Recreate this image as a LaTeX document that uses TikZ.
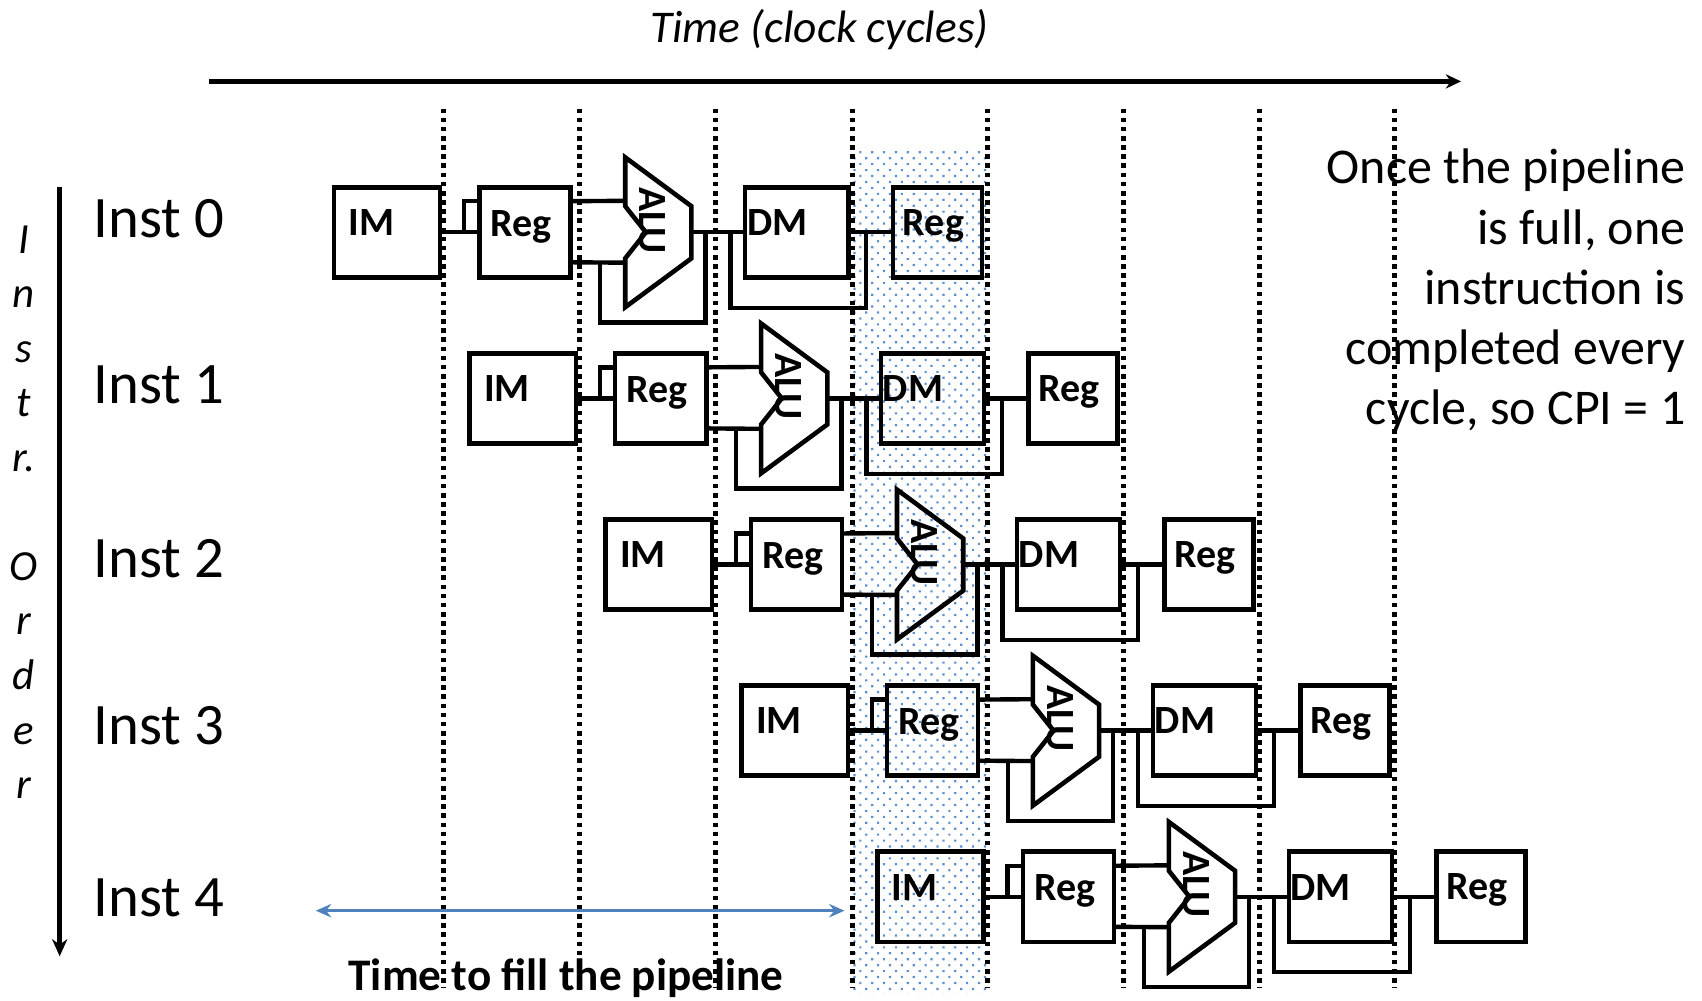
\documentclass[tikz,border=0pt]{standalone}
\usepackage{fontspec}
\setmainfont{Carlito}
\usetikzlibrary{calc, arrows.meta, patterns.meta}

\begin{document}
\begin{tikzpicture}[x=0.02cm, y=-0.02cm]
    % Define colours
    \definecolor{dotColour}{HTML}{5B8FCF}
    \definecolor{spanColour}{HTML}{4F81BD}

    \tikzset{
        stagebox/.style={draw, line width=2.4pt, inner sep=0pt, outer sep=0pt, minimum height=1.66cm},
        stagetext/.style={inner sep=0pt, font=\fontsize{21}{21}\selectfont\bfseries},
        wire/.style={line width=2.3pt, line join=miter},
        cycleline/.style={line width=2.6pt, dash pattern=on 2.4pt off 2.4pt},
        rowlabel/.style={inner sep=0pt, anchor=west, font=\fontsize{30.8}{30.8}\selectfont},
    }

    \useasboundingbox (0,0) rectangle (1568,922);

    % Draw the full pipeline column
    \fill[pattern={Dots[distance=4.4pt, angle=45, radius=0.8pt]}, pattern color=dotColour] (785,140) rectangle (910,915);

    % Draw cycle boundaries
    \foreach \x in {409,534,659,785,910,1035,1160,1285}
        \draw[cycleline] (\x,100) -- (\x,910);

    % Draw time axis and order axis
    \coordinate (timeStart) at (193,75);
    \coordinate (timeEnd) at (1346,75);
    \coordinate (orderStart) at (55,172);
    \coordinate (orderEnd) at (55,881);
    \draw[line width=2.4pt, -{Stealth[length=8pt, width=7.5pt]}] (timeStart) -- (timeEnd);
    \draw[line width=2.4pt, -{Stealth[length=9pt, width=8pt]}] (orderStart) -- (orderEnd);

    \node[inner sep=0pt, font=\fontsize{23.8}{23.8}\selectfont\itshape] (timeLabel) at (755,27) {Time (clock cycles)};
    \node[inner sep=0pt, anchor=north, align=center, font=\fontsize{22.5}{28.6}\selectfont\itshape] (orderLabel) at (22,207.5)
        {I\\n\\s\\t\\r.\\[28.6pt]O\\r\\d\\e\\r};

    % Draw one row per instruction
    \foreach \i/\ly in {0/201,1/354.5,2/515,3/668.5,4/827} {
        \node[rowlabel] (inst\i) at (86,\ly) {Inst \i};
        \begin{scope}[shift={({125.2*\i},{153.05*\i})}]
            % Stages
            \node[stagebox, minimum width=1.96cm] (IM\i) at (356.5,214) {};
            \node[stagebox, minimum width=1.68cm] (RegA\i) at (483.5,214) {};
            \node[stagebox, minimum width=1.90cm] (DM\i) at (734,214) {};
            \node[stagebox, minimum width=1.64cm] (RegB\i) at (863.5,214) {};
            \node[stagetext] (IMtext\i) at (342,205) {IM};
            \node[stagetext] (RegAtext\i) at (480,209) {Reg};
            \node[stagetext] (DMtext\i) at (716,205) {DM};
            \node[stagetext] (RegBtext\i) at (860,208) {Reg};

            % ALU outline
            \draw[line width=2.4pt, line join=miter] (576,145) -- (637,190) -- (637,238) -- (576,283) -- (576,238) -- (595,214) -- (576,190) -- cycle;
            \node[stagetext, rotate=-90] (ALU\i) at (601,203) {ALU};
            \coordinate (aluUpper\i) at (576,185);
            \coordinate (aluLower\i) at (576,242);
            \coordinate (aluOut\i) at (637,214);

            % Wires
            \coordinate (fork\i) at (427.5,214);
            \coordinate (fwdAlu\i) at (650,214);
            \coordinate (fwdDm\i) at (673,214);
            \coordinate (fwdReg\i) at (798,214);
            \coordinate (tapAlu\i) at (553,242);
            \draw[wire] (IM\i.east) -- (RegA\i.west);
            \draw[wire] (fork\i) |- ($(RegA\i.north west)!0.155!(RegA\i.south west)$);
            \draw[wire] ($(RegA\i.north east)!0.155!(RegA\i.south east)$) -- (aluUpper\i);
            \draw[wire] ($(RegA\i.north east)!0.833!(RegA\i.south east)$) -- (aluLower\i);
            \draw[wire] (tapAlu\i) |- (650,297) -- (fwdAlu\i);
            \draw[wire] (aluOut\i) -- (DM\i.west);
            \draw[wire] (fwdDm\i) |- (798,283.5) -- (fwdReg\i);
            \draw[wire] (DM\i.east) -- (RegB\i.west);
        \end{scope}
    }

    % Fill time span
    \node[inner sep=0pt, font=\fontsize{23.7}{23.7}\selectfont\bfseries] (fillLabel) at (521.5,901) {Time to fill the pipeline};
    \coordinate (fillStart) at (291,839);
    \coordinate (fillEnd) at (778,839);
    \draw[spanColour, line width=1.4pt, {Stealth[length=8pt, width=7pt]}-{Stealth[length=8pt, width=7pt]}] (fillStart) -- (fillEnd);

    % Right hand note
    \node[inner sep=0pt, anchor=north east, align=right, font=\fontsize{26.2}{31.6}\selectfont] (note) at (1553,137)
        {Once the pipeline\\is full, one\\instruction is\\completed every\\cycle, so CPI = 1};
\end{tikzpicture}
\end{document}
